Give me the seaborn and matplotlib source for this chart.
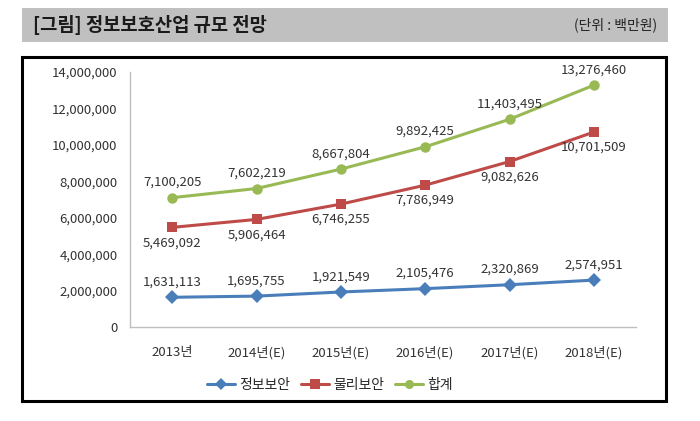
import matplotlib
matplotlib.use('Agg')
import matplotlib.pyplot as plt
from matplotlib.patches import Rectangle
from matplotlib.lines import Line2D
import numpy as np
import pandas as pd
import seaborn as sns

years = ["2013년", "2014년(E)", "2015년(E)", "2016년(E)", "2017년(E)", "2018년(E)"]
info_sec = [1631113, 1695755, 1921549, 2105476, 2320869, 2574951]
phys_sec = [5469092, 5906464, 6746255, 7786949, 9082626, 10701509]
total = [7100205, 7602219, 8667804, 9892425, 11403495, 13276460]
series_names = ["정보보안", "물리보안", "합계"]

sns.set_style("white")
plt.rcParams['font.family'] = ['Noto Sans CJK KR', 'DejaVu Sans']

df = pd.DataFrame({
    "idx": list(range(6)) * 3,
    "value": info_sec + phys_sec + total,
    "series": [s for s in series_names for _ in range(6)],
})

colors = {"정보보안": "#4a7ebb", "물리보안": "#be4b48", "합계": "#98b954"}
markers = {"정보보안": "D", "물리보안": "s", "합계": "o"}

fig = plt.figure(figsize=(7, 4.21), dpi=100)

# title band
fig.patches.append(Rectangle((22/700, 1-42/421), 646/700, 34/421,
                             transform=fig.transFigure, facecolor="#c0c0c0",
                             edgecolor="none", zorder=0))
fig.text(33/700, 1-25/421, "[그림] 정보보호산업 규모 전망", fontsize=13.5,
         fontweight="bold", va="center", ha="left", color="#1a1a1a")
fig.text(657/700, 1-25/421, "(단위 : 백만원)", fontsize=10, va="center",
         ha="right", color="#222222")

# chart frame
fig.patches.append(Rectangle((22/700, 1-401/421), 644/700, 344/421,
                             transform=fig.transFigure, facecolor="none",
                             edgecolor="black", linewidth=2.2, zorder=0))

ax = fig.add_axes([130/700, 1-327/421, 506/700, 255/421])
sns.lineplot(data=df, x="idx", y="value", hue="series", style="series",
             palette=colors, markers=markers, dashes=False, linewidth=2.2,
             markersize=7.5, markeredgewidth=0, ax=ax, legend=False)

ax.set_xlim(-0.5, 5.5)
ax.set_ylim(0, 14000000)
ax.set_yticks(np.arange(0, 14000001, 2000000))
ax.set_yticklabels([f"{int(v):,}" for v in ax.get_yticks()])
ax.set_xticks(range(6))
ax.set_xticklabels(years)
ax.set_xticks(np.arange(-0.5, 5.6, 1), minor=True)
ax.tick_params(axis="x", which="major", length=0, pad=14, labelsize=9.5)
ax.tick_params(axis="x", which="minor", length=5, color="#bfbfbf", direction="out")
ax.tick_params(axis="y", length=5, color="#bfbfbf", direction="out", labelsize=9.5, pad=4)
ax.tick_params(axis="both", colors="#333333", which="major")
ax.set_xlabel("")
ax.set_ylabel("")
for s in ["top", "right"]:
    ax.spines[s].set_visible(False)
for s in ["left", "bottom"]:
    ax.spines[s].set_color("#bfbfbf")
    ax.spines[s].set_linewidth(1)
ax.patch.set_alpha(0)

# data labels
for vals, dy in [(info_sec, 11), (phys_sec, -11), (total, 11)]:
    for i, v in enumerate(vals):
        ax.annotate(f"{v:,}", (i, v), xytext=(0, dy), textcoords="offset points",
                    ha="center", va="center", fontsize=9.5, color="#333333")

# legend
handles = [Line2D([0], [0], color=colors[n], marker=markers[n], linewidth=2.2,
                  markersize=6.5, markeredgewidth=0) for n in series_names]
fig.legend(handles, series_names, loc="center", bbox_to_anchor=(330/700, 1-385/421),
           ncol=3, frameon=False, fontsize=10, handlelength=2.0,
           columnspacing=0.8, handletextpad=0.3)

fig.savefig("out.png", dpi=100)
